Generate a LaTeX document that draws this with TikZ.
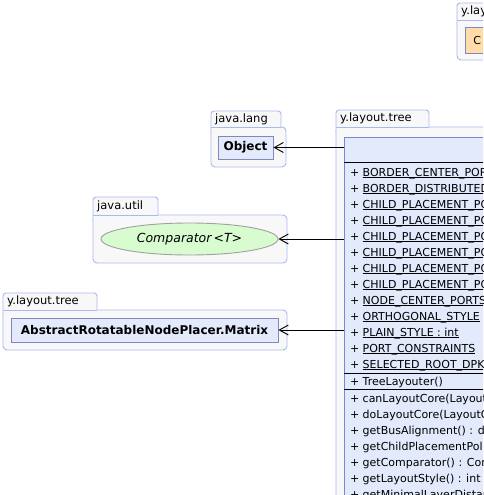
\documentclass[tikz,border=0pt]{standalone}
\usepackage{fontspec}
\setmainfont{DejaVu Sans}
\usetikzlibrary{arrows.meta,shapes.geometric}
\definecolor{pkgborder}{HTML}{AAB8F2}
\definecolor{pkgfill}{HTML}{F8F8F8}
\definecolor{clsfill}{HTML}{E2EAFC}
\definecolor{clsborder}{HTML}{8088C0}
\definecolor{treeborder}{HTML}{7888D8}
\definecolor{ifill}{HTML}{D8FCD0}
\definecolor{iborder}{HTML}{A0A0A0}
\definecolor{ofill}{HTML}{FFDCA8}
\newcommand\rowfont{\fontsize{11}{13}\selectfont}
\newcommand\labfont{\fontsize{11.5}{13}\selectfont}
\newcommand\namefont{\fontsize{12}{14}\selectfont\bfseries}
\newcommand\pkgdraw[8]{%
  \draw[pkgbody] (#1,#5) rectangle (#2,#6);
  \path[pkgtab] (#1,{#5+5}) -- (#1,#4) -- (#3,#4) -- (#3,#5);
  \draw[pkgline] (#1,#5) -- (#3,#5);
  \node[pkglabel] (#8) at ({#1+4},{(#4+#5)/2}) {#7};
}
\begin{document}
\begin{tikzpicture}[x=1pt,y=-1pt,
  pkgbody/.style={draw=pkgborder,fill=pkgfill,line width=0.9pt,rounded corners=4},
  pkgtab/.style={draw=pkgborder,fill=pkgfill,line width=0.9pt,rounded corners=3},
  pkgline/.style={draw=pkgborder,line width=0.9pt},
  pkglabel/.style={anchor=west,inner sep=0,font=\labfont},
  cls/.style={draw=clsborder,fill=clsfill,line width=0.9pt,inner sep=0,font=\namefont},
  row/.style={anchor=base west,inner sep=0,font=\rowfont},
  sepline/.style={line width=0.9pt},
  dep/.style={-{Straight Barb[length=9pt,width=10pt]},line width=0.9pt}]
\useasboundingbox (0,0) rectangle (483,495);
\clip (0,0) rectangle (483,495);
\fill[white] (0,0) rectangle (483,495);

% packages
\pkgdraw{457}{620}{545}{3}{20}{60}{y.layout}{pkgA}
\pkgdraw{211}{286}{281}{111}{127}{167}{java.lang}{pkgB}
\pkgdraw{93}{287}{158}{197}{215}{263}{java.util}{pkgC}
\pkgdraw{3}{287}{97}{293}{310}{350}{y.layout.tree}{pkgD}
\pkgdraw{336}{640}{429}{110}{127}{600}{y.layout.tree}{pkgE}

% classes
\node[cls,fill=ofill,anchor=west,minimum height=26,text width=50,inner xsep=8,align=left,font=\rowfont] (canon) at (465,40) {C};
\node[cls,minimum width=55,minimum height=23] (obj) at (245.5,147.5) {Object};
\node[ellipse,draw=iborder,fill=ifill,line width=0.9pt,minimum width=177,minimum height=32,inner sep=0,font=\fontsize{12.5}{14}\selectfont\itshape] (cmp) at (189.5,239) {Comparator\,<T>};
\node[cls,minimum width=267,minimum height=24] (mat) at (144.5,330) {AbstractRotatableNodePlacer.Matrix};
\node[cls,draw=treeborder,anchor=north west,minimum width=300,minimum height=460] (tree) at (344,137) {};

\draw[sepline] (344,162) -- (644,162);
\draw[sepline] (344,373) -- (644,373);
\draw[sepline] (344,389.5) -- (644,389.5);

\foreach \t [count=\i from 0] in {BORDER\_CENTER\_PORTS,BORDER\_DISTRIBUTED,CHILD\_PLACEMENT\_PO,CHILD\_PLACEMENT\_PO,CHILD\_PLACEMENT\_PO,CHILD\_PLACEMENT\_PO,CHILD\_PLACEMENT\_PO,CHILD\_PLACEMENT\_PO,NODE\_CENTER\_PORTS,ORTHOGONAL\_STYLE,PLAIN\_STYLE : int,PORT\_CONSTRAINTS,SELECTED\_ROOT\_DPK}{
  \node[row] (fp\i) at (350,{176+16*\i}) {+};
  \node[row] (f\i) at (362.5,{176+16*\i}) {$\underline{\smash{\hbox{\rowfont\t}}}$};
}
\node[row] (cp) at (350,385.5) {+};
\node[row] (c0) at (362.5,385.5) {TreeLayouter()};
\foreach \t [count=\i from 0] in {canLayoutCore(Layout,doLayoutCore(LayoutG,getBusAlignment() : do,getChildPlacementPol,getComparator() : Com,getLayoutStyle() : int,getMinimalLayerDistan}{
  \node[row] (mp\i) at (350,{402+16*\i}) {+};
  \node[row] (m\i) at (362.5,{402+16*\i}) {\t};
}

% connectors
\draw[dep] (tree.west |- obj.east) -- (obj.east);
\draw[dep] (tree.west |- cmp.east) -- (cmp.east);
\draw[dep] (tree.west |- mat.east) -- (mat.east);
\end{tikzpicture}
\end{document}
